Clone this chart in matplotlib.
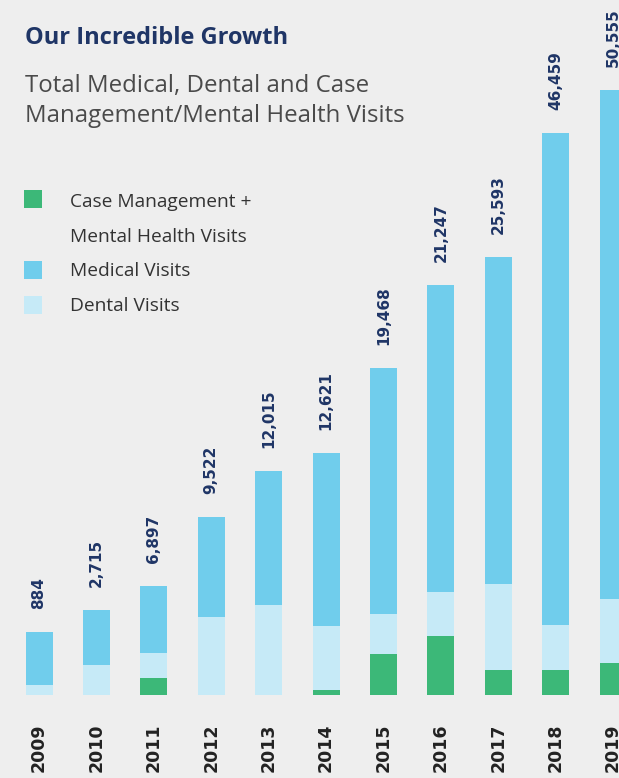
import matplotlib
matplotlib.use("Agg")
import matplotlib.pyplot as plt
from matplotlib.patches import Rectangle

# ---- data (bar segment heights as drawn, arbitrary visual units) ----
years = ["2009", "2010", "2011", "2012", "2013", "2014", "2015", "2016", "2017", "2018", "2019"]
case_mgmt = [0, 0, 17, 0, 0, 5, 41, 59, 25, 25, 32]
dental = [10, 30, 25, 78, 90, 64, 40, 44, 86, 45, 64]
medical = [53, 55, 67, 100, 134, 173, 246, 307, 327, 492, 509]
totals = [884, 2715, 6897, 9522, 12015, 12621, 19468, 21247, 25593, 46459, 50555]
legend_labels = ["Case Management +\nMental Health Visits", "Medical Visits", "Dental Visits"]
title = "Our Incredible Growth"
subtitle = ["Total Medical, Dental and Case", "Management/Mental Health Visits"]

# ---- style ----
BG = "#eeeeee"
GREEN = "#3cb878"
MED = "#70cdec"
DEN = "#c6eaf7"
NAVY = "#1f3566"
GREY = "#333333"

W, H = 619, 778
fig = plt.figure(figsize=(W / 100, H / 100), dpi=100, facecolor=BG)
base_px = 695
ax = fig.add_axes([0, (H - base_px) / H, 1, base_px / H])
ax.set_facecolor(BG)
step = 57.4
c0 = 39
ax.set_xlim(-c0 / step, (W - c0) / step)
ax.set_ylim(0, base_px)
ax.axis("off")

x = list(range(len(years)))
bw = 27 / step
b1 = case_mgmt
b2 = [a + b for a, b in zip(case_mgmt, dental)]
ax.bar(x, case_mgmt, width=bw, color=GREEN, linewidth=0)
ax.bar(x, dental, width=bw, bottom=b1, color=DEN, linewidth=0)
ax.bar(x, medical, width=bw, bottom=b2, color=MED, linewidth=0)

for i in x:
    top = case_mgmt[i] + dental[i] + medical[i]
    ax.text(i, top + 23, f"{totals[i]:,}", rotation=90, ha="center", va="bottom",
            color=NAVY, fontsize=11, fontweight="bold", family="DejaVu Sans", clip_on=False)
    ax.text(i, -53, years[i], rotation=90, ha="center", va="center",
            color="#222222", fontsize=12.5, fontweight="bold", family="DejaVu Sans", clip_on=False)

def fx(px):
    return px / W

def fy(py):
    return 1 - py / H

fig.text(fx(25), fy(44), title, ha="left", va="baseline", color=NAVY,
         fontsize=17, fontweight="bold", family="Open Sans")
fig.text(fx(25), fy(92), subtitle[0], ha="left", va="baseline", color="#4a4a4a",
         fontsize=17.3, family="Open Sans")
fig.text(fx(25), fy(122), subtitle[1], ha="left", va="baseline", color="#4a4a4a",
         fontsize=17.3, family="Open Sans")

# legend
sq = 18
for ytop, col in [(190, GREEN), (261, MED), (296, DEN)]:
    fig.add_artist(Rectangle((fx(24), fy(ytop + sq)), sq / W, sq / H,
                             transform=fig.transFigure, facecolor=col, edgecolor="none"))
leg_lines = legend_labels[0].split("\n") + legend_labels[1:]
for txt, yb in zip(leg_lines, [206.7, 241.7, 276, 310.7]):
    fig.text(fx(70), fy(yb), txt, ha="left", va="baseline", color=GREY,
             fontsize=13.8, family="Open Sans")

fig.savefig("out.png", dpi=100, facecolor=BG)
